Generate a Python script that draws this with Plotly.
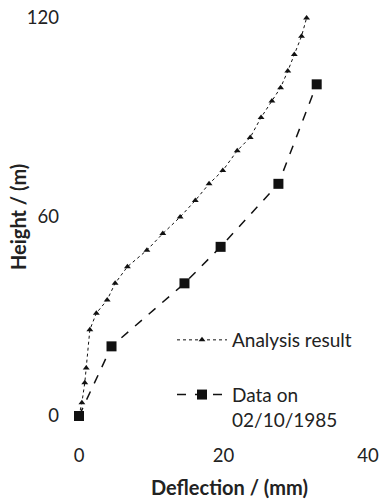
import plotly.graph_objects as go

# Analysis result (deflection mm, height m)
analysis_deflection = [0, 0.4, 0.8, 1.0, 1.5, 2.4, 3.9, 5.0, 6.7, 9.4, 11.6, 14.0, 16.1, 18.0, 19.9,
                       21.9, 23.7, 25.2, 26.7, 27.9, 28.9, 29.8, 30.8, 31.5]
analysis_height = [0, 4, 10, 14.5, 26, 31, 35, 40, 45, 50, 55, 60, 65, 70, 74,
                   80, 84, 90, 95, 99, 104, 109, 114.5, 120]

# Measured data on 02/10/1985
data_deflection = [0, 4.5, 14.6, 19.6, 27.6, 32.9]
data_height = [0, 21, 40, 51, 70, 100]

x_ticks = [0, 20, 40]
y_ticks = [0, 60, 120]

FONT = "Lato"
TXT = "#222"

# plot area in page pixels
PL, PR, PT, PB = 79, 368, 18, 416
W, H = PR - PL, PB - PT

fig = go.Figure()
fig.add_trace(go.Scatter(
    x=analysis_deflection, y=analysis_height, mode="lines+markers",
    name="Analysis result", legendgroup="a",
    line=dict(color="#111", width=1, dash="dot"),
    marker=dict(symbol="triangle-up", size=6, color="#111"),
    cliponaxis=False,
))
fig.add_trace(go.Scatter(
    x=data_deflection, y=data_height, mode="lines+markers",
    name="Data on<br>02/10/1985", legendgroup="b",
    line=dict(color="#111", width=1.5, dash="dash"),
    marker=dict(symbol="square", size=10, color="#111"),
    cliponaxis=False,
))

fig.update_layout(
    width=379, height=499,
    margin=dict(l=PL, r=379 - PR, t=PT, b=499 - PB),
    paper_bgcolor="white", plot_bgcolor="white",
    font=dict(family=FONT, size=16, color=TXT),
    showlegend=True,
    legend=dict(x=(172 - PL) / W, y=(PB - 321) / H, xanchor="left", yanchor="top",
                bgcolor="rgba(0,0,0,0)", font=dict(size=19, family=FONT, color=TXT),
                tracegroupgap=27, valign="top", itemwidth=50),
    xaxis=dict(range=[0, 40], tickvals=x_ticks, showgrid=False, zeroline=False,
               showline=False, ticks="", ticklabelstandoff=26, automargin=False,
               ticklabeloverflow="allow",
               tickfont=dict(size=18.5, family=FONT, color=TXT)),
    yaxis=dict(range=[0, 120], tickvals=y_ticks, showgrid=False, zeroline=False,
               showline=False, ticks="", ticklabelstandoff=19, automargin=False,
               ticklabeloverflow="allow",
               tickfont=dict(size=18.5, family=FONT, color=TXT)),
    annotations=[
        dict(text="<b>Deflection / (mm)</b>", xref="paper", yref="paper",
             x=(229 - PL) / W, y=-(487 - PB) / H, xanchor="center", yanchor="middle",
             showarrow=False, font=dict(size=20, family=FONT, color=TXT)),
        dict(text="<b>Height / (m)</b>", xref="paper", yref="paper",
             x=-(PL - 18) / W, y=(PB - 217) / H, xanchor="center", yanchor="middle",
             textangle=-90, showarrow=False, font=dict(size=20, family=FONT, color=TXT)),
    ],
)

# remove the browser's default 8px body margin so the figure fills the window
fig.write_html("out.html", config={"displayModeBar": False},
               post_script="document.body.style.margin='0';document.body.style.overflow='hidden';")
